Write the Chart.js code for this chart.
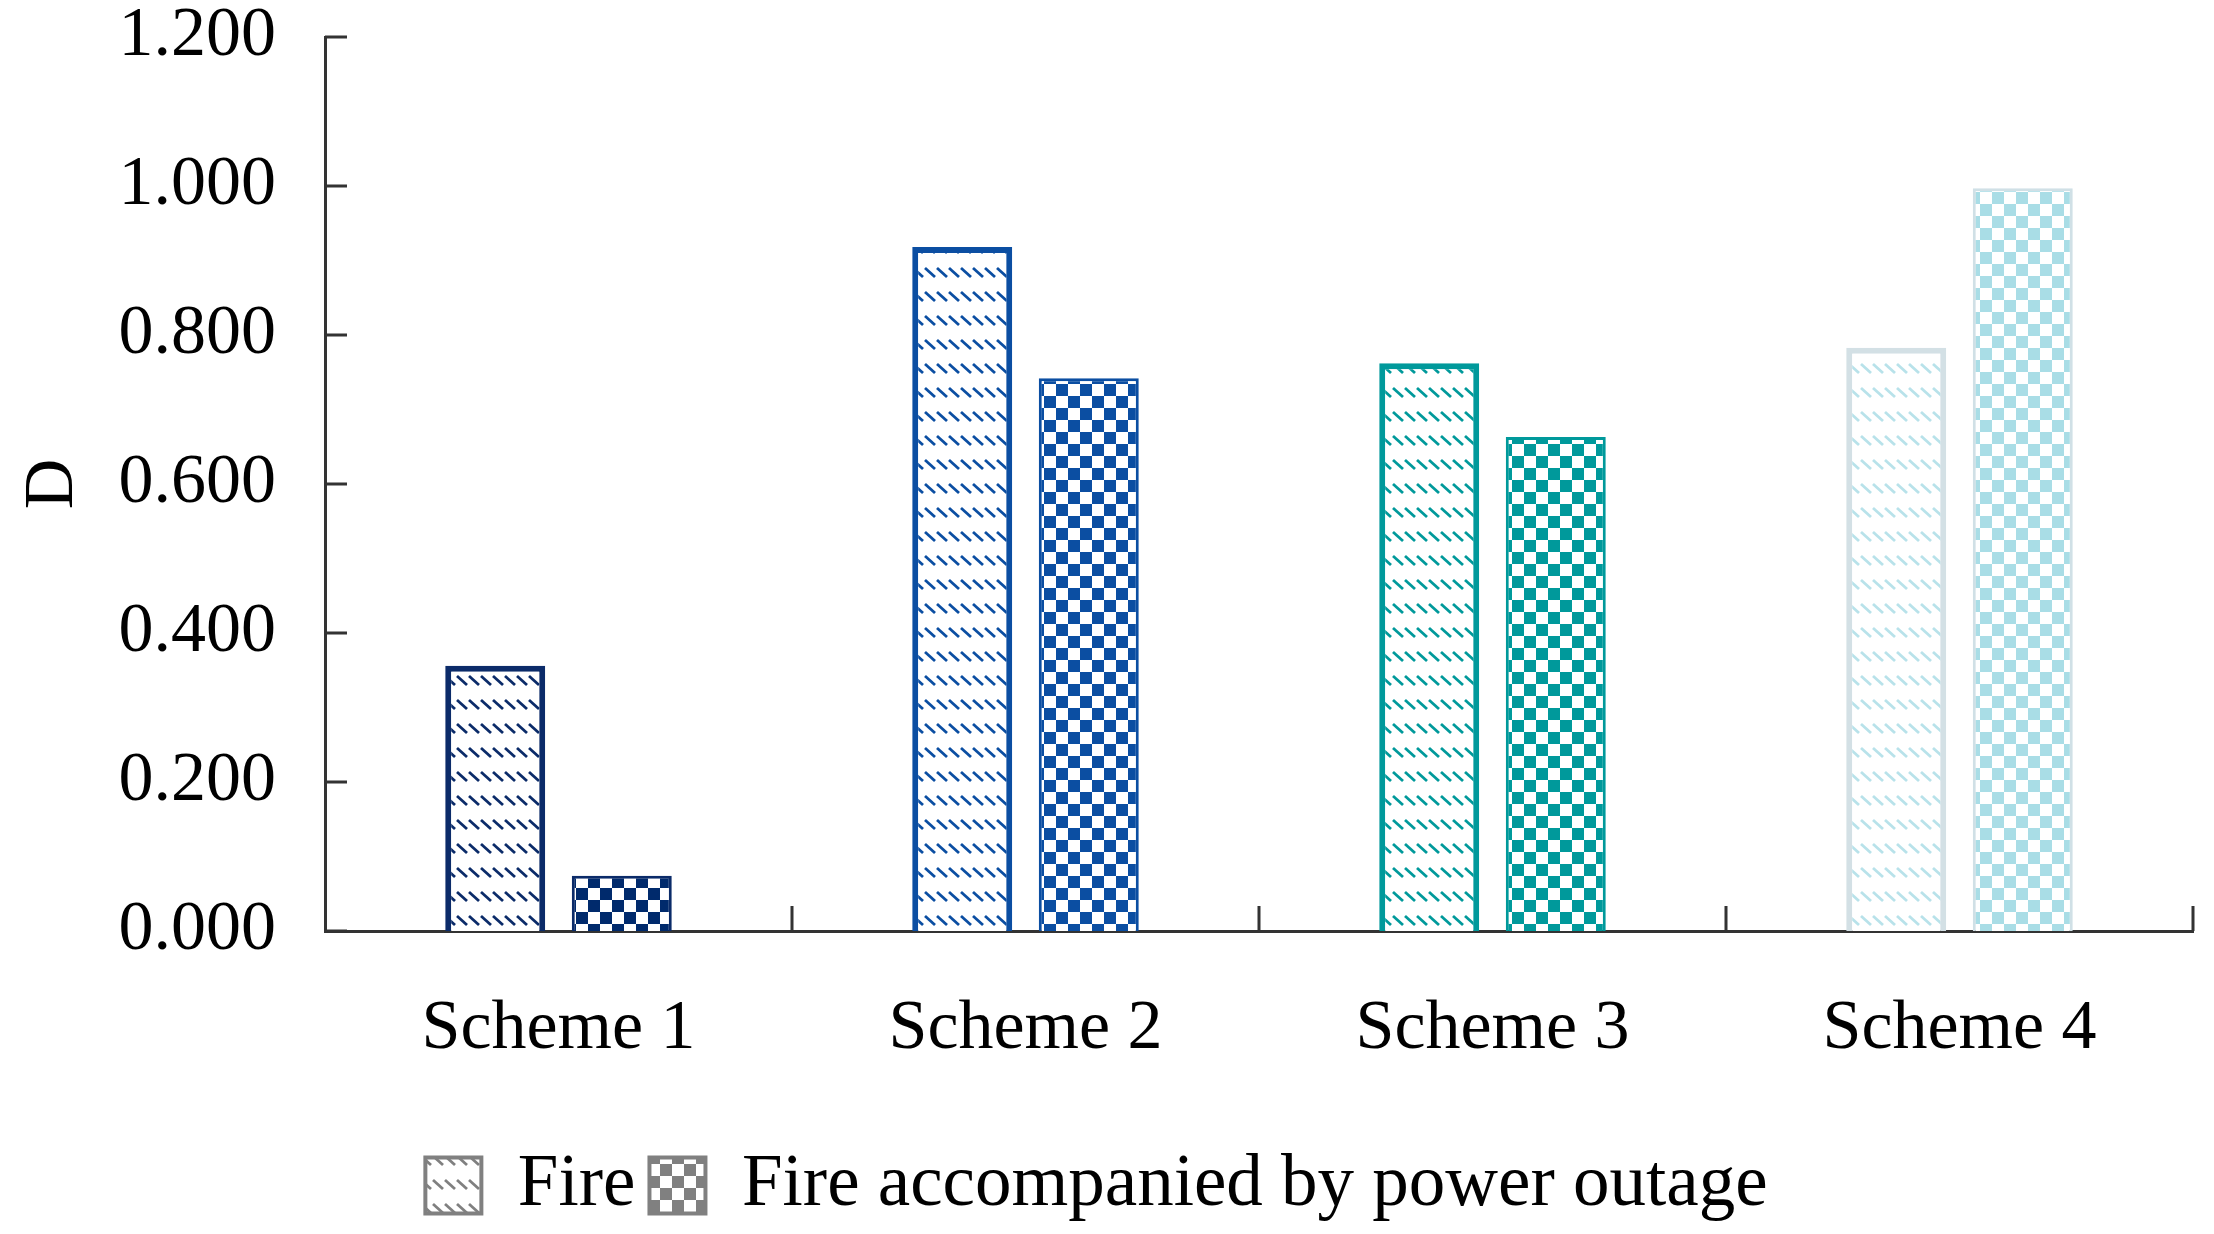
<!DOCTYPE html>
<html>
<head>
<meta charset="utf-8">
<script src="https://cdn.jsdelivr.net/npm/chart.js@4"></script>
<style>
  html, body { margin: 0; padding: 0; background: #fff; }
  #wrap { width: 2214px; height: 1234px; }
</style>
</head>
<body>
<div id="wrap"><canvas id="canvas" width="2214" height="1234"></canvas></div>
<script>
// data
const schemes = ['Scheme 1', 'Scheme 2', 'Scheme 3', 'Scheme 4'];
const fireValues = [0.356, 0.918, 0.762, 0.783];
const outageValues = [0.074, 0.742, 0.663, 0.997];
const seriesNames = ['Fire', 'Fire accompanied by power outage'];
const yTicks = [0, 0.2, 0.4, 0.6, 0.8, 1.0, 1.2];

// colours per scheme
const fireBorder = ['#0b2b69', '#0b4ea2', '#00999b', '#d3e0e5'];
const fireInk = ['#0b2b69', '#0b4ea2', '#00999b', '#b8e2ea'];
const outBorder = ['#0b2b69', '#0b4ea2', '#00999b', '#d0e0e6'];
const outInk = ['#002a6c', '#0b4ea2', '#00999b', '#a9dde6'];

const FONT = 'Liberation Serif';

function hatch(color) {
  const c = document.createElement('canvas');
  c.width = 12; c.height = 24;
  const g = c.getContext('2d');
  g.fillStyle = '#fff';
  g.fillRect(0, 0, 12, 24);
  g.strokeStyle = color;
  g.lineWidth = 2.8;
  g.beginPath();
  g.moveTo(1, 4);
  g.lineTo(11, 13);
  g.stroke();
  return g.createPattern(c, 'repeat');
}

function checker(color) {
  const c = document.createElement('canvas');
  c.width = 24; c.height = 24;
  const g = c.getContext('2d');
  g.fillStyle = '#fff';
  g.fillRect(0, 0, 24, 24);
  g.fillStyle = color;
  g.fillRect(0, 0, 12, 12);
  g.fillRect(12, 12, 12, 12);
  return g.createPattern(c, 'repeat');
}

// ticks pointing into the plot, like the original
const innerTicks = {
  id: 'innerTicks',
  afterDraw(chart) {
    const ctx = chart.ctx;
    const x = chart.scales.x, y = chart.scales.y;
    ctx.save();
    ctx.strokeStyle = '#333';
    ctx.lineWidth = 3;
    ctx.beginPath();
    for (const v of yTicks) {
      const py = y.getPixelForValue(v);
      ctx.moveTo(x.left, py);
      ctx.lineTo(x.left + 22, py);
    }
    const step = (x.right - x.left) / schemes.length;
    for (let i = 1; i <= schemes.length; i++) {
      const px = x.left + step * i;
      ctx.moveTo(px, y.bottom);
      ctx.lineTo(px, y.bottom - 25);
    }
    ctx.stroke();
    ctx.restore();
  }
};

new Chart(document.getElementById('canvas'), {
  type: 'bar',
  data: {
    labels: schemes,
    datasets: [{
      label: seriesNames[0],
      data: fireValues,
      backgroundColor: fireInk.map(hatch),
      borderColor: fireBorder,
      borderWidth: 6
    }, {
      label: seriesNames[1],
      data: outageValues,
      backgroundColor: outInk.map(checker),
      borderColor: outBorder,
      borderWidth: 3
    }]
  },
  plugins: [innerTicks],
  options: {
    responsive: false,
    animation: false,
    layout: { padding: { top: 37, right: 21, left: 0, bottom: 2 } },
    categoryPercentage: 0.542,
    barPercentage: 0.79,
    plugins: {
      tooltip: { enabled: false },
      legend: {
        position: 'bottom',
        labels: {
          font: { family: FONT, size: 73 },
          color: '#000',
          boxWidth: 56,
          boxHeight: 56,
          padding: 14,
          generateLabels() {
            return [
              { text: seriesNames[0], fillStyle: hatch('#808080'), strokeStyle: '#808080', lineWidth: 4, datasetIndex: 0 },
              { text: seriesNames[1], fillStyle: checker('#808080'), strokeStyle: '#808080', lineWidth: 4, datasetIndex: 1 }
            ];
          }
        }
      }
    },
    scales: {
      x: {
        grid: { display: false, drawTicks: false },
        border: { display: true, color: '#333', width: 3 },
        ticks: { font: { family: FONT, size: 70 }, color: '#000', padding: 57 },
        afterFit(s) { s.height = 204; }
      },
      y: {
        min: 0,
        max: 1.2,
        afterBuildTicks(s) { s.ticks = yTicks.map(v => ({ value: v })); },
        grid: { display: false, drawTicks: false },
        border: { display: true, color: '#333', width: 3 },
        ticks: {
          font: { family: FONT, size: 70 },
          color: '#000',
          padding: 49,
          callback: v => Number(v).toFixed(3)
        },
        title: {
          display: true,
          text: 'D',
          font: { family: FONT, size: 70 },
          color: '#000',
          padding: { top: 12, bottom: 0 }
        },
        afterFit(s) { s.width = 325; s.paddingTop = 0; s.paddingBottom = 0; }
      }
    }
  }
});
</script>
</body>
</html>
